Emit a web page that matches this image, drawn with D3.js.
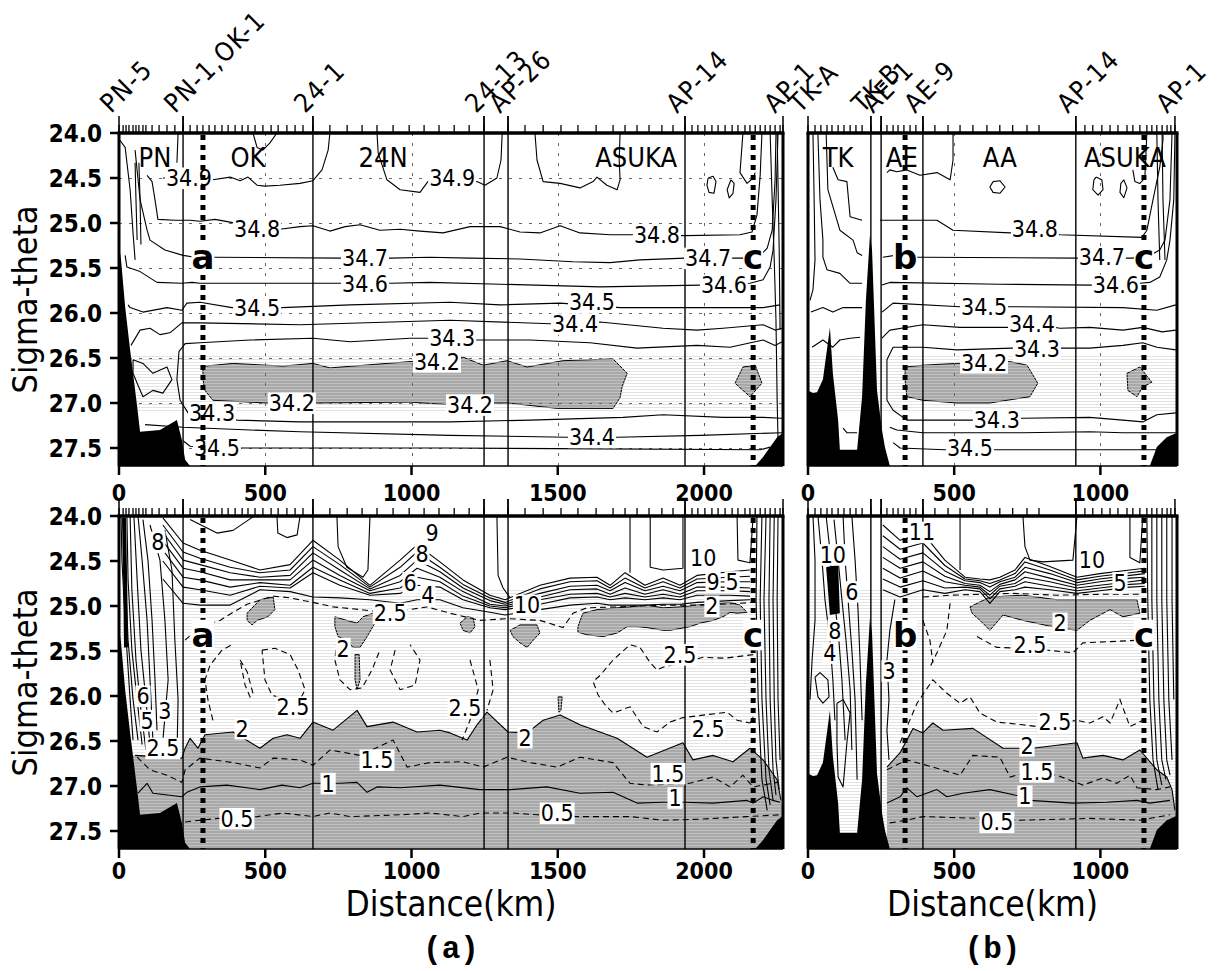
<!DOCTYPE html>
<html>
<head>
<meta charset="utf-8">
<title>Sigma-theta sections</title>
<script src="https://cdn.jsdelivr.net/npm/d3@7/dist/d3.min.js"></script>
<style>
  html, body { margin: 0; padding: 0; background: #ffffff; }
  svg { display: block; }
</style>
</head>
<body>
<svg id="chart" width="1222" height="971" xmlns="http://www.w3.org/2000/svg"></svg>
<script>
// ------------------------------------------------------------------
// Axis values
// ------------------------------------------------------------------
const SIGMA_DOMAIN = [24.0, 27.7];
const sigmaTicks = [24.0, 24.5, 25.0, 25.5, 26.0, 26.5, 27.0, 27.5];
const distTicksA = [0, 500, 1000, 1500, 2000];
const distTicksB = [0, 500, 1000];
const KM_MAX_A = 2270;
const KM_MAX_B = 1262;

// Station positions (km along each section)
const stationsA = [0,14,24,34,48,58,68,82,92,113,137,164,191,219,243,267,287,308,328,352,373,397,421,441,465,492,520,544,574,602,629,663,721,780,831,882,937,992,1043,1094,1146,1197,1248,1330,1388,1450,1511,1569,1631,1689,1730,1771,1812,1856,1894,1935,1959,1979,2003,2027,2048,2072,2096,2116,2140,2157,2175,2192,2209,2226,2243,2260,2270];
const stationsB = [0,24,44,65,82,103,123,144,164,185,215,250,270,291,308,328,349,369,393,434,479,520,564,612,656,700,749,790,916,947,974,1005,1033,1060,1091,1111,1135,1159,1176,1193,1211,1228,1241,1255];
const namedA = [["PN-5",0],["PN-1,OK-1",219],["24-1",663],["24-13",1248],["AP-26",1330],["AP-14",1935],["AP-1",2270]];
const namedB = [["TK-A",0],["TK-B",215],["AE-1",250],["AE-9",393],["AP-14",916],["AP-1",1255]];
const sectionLinesA = [219,663,1248,1330,1935];
const sectionLinesB = [215,250,393,916];
const marksA = [["a",287],["c",2168]];
const marksB = [["b",332],["c",1149]];
const regionsA = [["PN",123],["OK",441],["24N",903],["ASUKA",1768]];
const regionsB = [["TK",103],["AE",321],["AA",656],["ASUKA",1084]];

// Bottom topography (shared by salinity and temperature sections)
const bathyA_left = [[0,25.24],[7,25.41],[21,25.93],[38,26.41],[48,26.67],[62,27.04],[72,27.32],[140,27.30],[198,27.19],[215,27.41],[226,27.63],[243,27.70],[0,27.70]];
const bathyA_right = [[2175,27.70],[2202,27.60],[2226,27.49],[2250,27.38],[2270,27.33],[2270,27.70]];
const bathyB_left = [[0,26.86],[17,26.89],[31,26.88],[51,26.74],[75,26.16],[85,26.67],[103,27.19],[109,27.52],[168,27.52],[185,26.93],[198,25.86],[212,25.13],[219,25.30],[236,26.86],[253,27.30],[263,27.49],[280,27.70],[0,27.70]];
const bathyB_right = [[1169,27.70],[1193,27.49],[1227,27.38],[1262,27.33],[1262,27.70]];

// ------------------------------------------------------------------
// Salinity, section (a)  [km, sigma-theta]
// ------------------------------------------------------------------
const salA_349a = [[150,24.50],[321,24.52],[380,24.49],[414,24.53],[441,24.49],[472,24.58],[499,24.59],[550,24.58],[619,24.56],[663,24.53],[694,24.41],[715,24.19],[721,24.00]];
const salA_349b = [[882,24.00],[886,24.22],[916,24.52],[961,24.63],[1029,24.66],[1056,24.54],[1139,24.52],[1224,24.54],[1251,24.58],[1292,24.50],[1306,24.30],[1310,24.00]];
const salA_349c = [[1422,24.00],[1429,24.30],[1450,24.54],[1508,24.56],[1576,24.61],[1621,24.54],[1634,24.49],[1668,24.58],[1703,24.63],[1713,24.52],[1710,24.30],[1713,24.00]];
const salA_349d = [[2014,24.50],[2031,24.48],[2041,24.54],[2034,24.67],[2017,24.66],[2010,24.58],[2014,24.50]];
const salA_349e = [[2092,24.52],[2103,24.56],[2099,24.67],[2086,24.72],[2079,24.63],[2092,24.52]];
const salA_349f = [[2133,24.00],[2123,24.44],[2147,24.56],[2168,24.50],[2175,24.44]];
const salA_edge1 = [[2226,24.00],[2233,24.74],[2240,25.41],[2246,26.08],[2250,26.97],[2253,27.41]];
const salA_edge2 = [[2250,24.00],[2257,25.30],[2260,26.19]];
const salA_348 = [[96,24.47],[113,24.54],[123,24.74],[133,24.96],[191,24.97],[243,24.97],[277,24.98],[328,24.96],[380,24.99],[472,25.06],[550,25.07],[619,25.04],[663,25.03],[721,25.09],[773,25.04],[824,25.02],[892,25.08],[961,25.07],[1029,25.09],[1108,25.11],[1200,25.04],[1303,25.04],[1371,25.10],[1439,25.11],[1508,25.03],[1576,25.11],[1679,25.13],[1757,25.13],[1935,25.14],[2123,25.13],[2164,25.10],[2181,24.91],[2192,24.47],[2198,24.00]];
const salA_347 = [[55,24.19],[72,24.74],[96,25.08],[106,25.19],[157,25.30],[219,25.36],[260,25.38],[328,25.38],[756,25.39],[927,25.39],[1063,25.38],[1200,25.39],[1371,25.40],[1552,25.43],[1679,25.44],[1781,25.41],[1935,25.39],[2140,25.39],[2198,25.34],[2216,25.28],[2233,25.08],[2243,24.52],[2246,24.00]];
const salA_346 = [[21,25.36],[27,25.49],[72,25.54],[130,25.66],[215,25.67],[250,25.66],[277,25.67],[756,25.67],[927,25.67],[1063,25.66],[1303,25.68],[1645,25.71],[1987,25.69],[2157,25.67],[2202,25.63],[2226,25.49],[2236,25.30],[2246,24.74],[2253,24.00]];
const salA_345 = [[31,25.91],[38,25.94],[82,25.99],[164,25.94],[215,25.97],[232,25.89],[277,25.88],[386,25.94],[557,25.94],[790,25.91],[1132,25.88],[1303,25.91],[1508,25.89],[1713,25.94],[1987,25.94],[2202,25.94],[2260,25.91]];
const salA_344 = [[41,26.36],[72,26.19],[106,26.17],[140,26.24],[174,26.22],[215,26.11],[277,26.11],[619,26.13],[1132,26.08],[1474,26.12],[1645,26.10],[1860,26.17],[1976,26.19],[2065,26.17],[2202,26.13],[2243,26.19],[2267,26.17]];
const salA_343 = [[2267,26.32],[2243,26.36],[2202,26.30],[2089,26.38],[1976,26.36],[1771,26.39],[1610,26.33],[1405,26.30],[1224,26.30],[1139,26.28],[995,26.28],[790,26.32],[663,26.28],[448,26.30],[277,26.33],[226,26.34],[205,26.43],[198,26.74],[209,26.97],[236,27.11],[318,27.12],[403,27.19],[619,27.21],[1132,27.21],[1405,27.19],[1723,27.16],[1860,27.13],[2065,27.16],[2202,27.16],[2267,27.17]];
const salA_344b = [[89,27.24],[219,27.27],[448,27.30],[619,27.32],[1132,27.36],[1532,27.38],[1703,27.38],[1987,27.36],[2267,27.33]];
const salA_345b = [[219,27.42],[243,27.48],[335,27.50],[424,27.50],[1132,27.50],[1645,27.51],[2192,27.52],[2226,27.49]];
const salA_342 = [[287,26.63],[294,26.59],[390,26.56],[561,26.59],[663,26.56],[721,26.61],[995,26.54],[1097,26.52],[1176,26.49],[1245,26.58],[1327,26.53],[1395,26.60],[1518,26.53],[1689,26.51],[1737,26.67],[1720,26.82],[1713,26.94],[1689,27.06],[1498,27.06],[1327,27.00],[1268,27.00],[1132,27.02],[995,26.99],[663,27.00],[506,27.00],[321,26.97],[294,26.86],[287,26.74]];
const salA_342b = [[2133,26.60],[2175,26.58],[2198,26.78],[2157,26.93],[2106,26.78]];
const salA_pnLoop = [[48,26.52],[82,26.56],[116,26.67],[164,26.60],[181,26.74],[150,26.89],[116,26.86],[82,26.93],[62,26.78],[48,26.67],[48,26.52]];
const salA_pn1 = [[3,24.08],[21,24.16],[38,24.63],[48,25.11],[55,25.41]];
const salA_pn2 = [[55,24.33],[58,24.74],[62,25.19]];
const salA_pn3 = [[68,24.33],[72,24.74],[75,25.24]];
const salA_top1 = [[202,24.00],[198,24.33]];
const salA_top2 = [[458,24.00],[472,24.16],[492,24.19],[516,24.11],[540,24.00]];
const salA_labels = [["34.9",239,24.50],["34.9",1139,24.50],["34.8",472,25.06],["34.8",1839,25.13],["34.7",841,25.39],["34.7",2014,25.39],["34.6",841,25.67],["34.6",2068,25.69],["34.5",472,25.94],["34.5",1617,25.87],["34.4",1559,26.12],["34.3",1139,26.28],["34.2",1087,26.54],["34.3",318,27.11],["34.2",591,27.00],["34.2",1200,27.02],["34.4",1617,27.38],["34.5",335,27.50]];

// ------------------------------------------------------------------
// Salinity, section (b)
// ------------------------------------------------------------------
const salB_349a = [[270,24.44],[280,24.41],[304,24.43],[338,24.41],[383,24.47],[441,24.44],[486,24.52],[496,24.30],[496,24.00]];
const salB_349b = [[633,24.54],[656,24.53],[674,24.60],[656,24.67],[633,24.66],[622,24.60],[633,24.54]];
const salB_349c = [[985,24.49],[1005,24.52],[1009,24.63],[992,24.69],[974,24.63],[978,24.52],[985,24.49]];
const salB_349d = [[1080,24.52],[1091,24.61],[1080,24.72],[1067,24.66],[1070,24.56],[1080,24.52]];
const salB_349e = [[1111,24.41],[1118,24.54],[1135,24.56],[1152,24.50],[1159,24.00]];
const salB_edge1 = [[1193,24.00],[1197,24.74],[1203,25.41]];
const salB_edge2 = [[1211,24.00],[1214,24.74],[1221,25.41]];
const salB_tk1 = [[17,24.00],[21,24.74],[24,25.41],[17,25.74],[7,25.86]];
const salB_tk2 = [[34,24.02],[41,24.74],[51,25.19],[51,25.38],[65,25.52],[109,25.56],[144,25.67],[185,25.67]];
const salB_tk3 = [[85,24.38],[103,24.52],[133,24.54],[144,24.93],[185,24.97]];
const salB_tk4 = [[10,25.99],[51,25.94],[85,25.99],[120,25.94],[185,25.94]];
const salB_tk5 = [[14,26.38],[51,26.30],[85,26.38],[109,26.30],[144,26.28],[178,26.27]];
const salB_tk6 = [[120,27.28],[133,27.33],[168,27.33]];
const salB_tk7 = [[62,24.00],[68,24.63],[109,25.08],[154,25.19],[168,25.33],[185,25.36]];
const salB_348 = [[246,24.97],[441,24.97],[496,25.08],[691,25.11],[776,25.06],[862,25.13],[1142,25.16],[1159,25.08],[1180,24.74],[1203,24.38],[1214,24.08],[1214,24.00]];
const salB_347 = [[256,25.38],[297,25.36],[366,25.38],[393,25.38],[920,25.39],[1005,25.38],[1091,25.39],[1111,25.39],[1169,25.36],[1203,25.30],[1221,25.19],[1238,24.74],[1245,24.00]];
const salB_346 = [[253,25.69],[280,25.66],[656,25.68],[971,25.69],[1053,25.69],[1135,25.67],[1169,25.66],[1203,25.60],[1227,25.41],[1238,25.19],[1251,24.74],[1255,24.00]];
const salB_345 = [[253,25.99],[291,25.89],[520,25.93],[602,25.93],[684,25.93],[1077,25.94],[1193,25.97],[1258,25.91]];
const salB_344 = [[253,26.28],[280,26.19],[393,26.13],[520,26.16],[684,26.16],[766,26.12],[862,26.17],[964,26.16],[1077,26.19],[1145,26.16],[1211,26.21],[1258,26.19]];
const salB_343 = [[1258,26.41],[1193,26.38],[1145,26.33],[1077,26.36],[964,26.39],[868,26.39],[783,26.40],[697,26.39],[509,26.41],[393,26.38],[291,26.38],[270,26.52],[270,26.71],[270,26.97],[291,27.08],[338,27.19],[561,27.19],[646,27.19],[732,27.17],[964,27.16],[1077,27.19],[1145,27.21],[1193,27.13],[1258,27.11]];
const salB_344b = [[280,27.27],[304,27.30],[393,27.33],[735,27.33],[964,27.32],[1077,27.33],[1258,27.33]];
const salB_345b = [[291,27.44],[315,27.50],[468,27.52],[554,27.52],[646,27.52],[1193,27.52],[1221,27.49]];
const salB_342 = [[332,26.60],[393,26.58],[509,26.56],[691,26.54],[749,26.58],[786,26.78],[759,26.93],[622,27.00],[509,27.00],[393,26.97],[338,26.93],[332,26.74]];
const salB_342b = [[1091,26.67],[1135,26.60],[1176,26.77],[1145,26.82],[1125,26.93],[1094,26.86]];
const salB_labels = [["34.8",776,25.06],["34.7",1005,25.38],["34.6",1053,25.69],["34.5",602,25.93],["34.4",766,26.12],["34.3",783,26.40],["34.2",602,26.55],["34.3",646,27.19],["34.5",554,27.50]];

// ------------------------------------------------------------------
// Potential temperature, section (a)
// ------------------------------------------------------------------
const tA_bandKm = [150,219,277,380,482,585,663,755,858,961,1019,1097,1176,1268,1320,1439,1542,1634,1679,1730,1798,1860,1918,1976,2089,2157];
const tA_band = [
  [24.02,24.30,24.38,24.49,24.60,24.54,24.27,24.49,24.77,24.49,24.32,24.51,24.71,24.88,24.93,24.77,24.69,24.68,24.77,24.63,24.77,24.69,24.77,24.66,24.62,24.60],
  [24.10,24.40,24.47,24.57,24.63,24.60,24.34,24.54,24.79,24.57,24.40,24.57,24.76,24.91,24.96,24.81,24.73,24.72,24.80,24.69,24.80,24.73,24.80,24.70,24.68,24.67],
  [24.18,24.49,24.54,24.63,24.68,24.66,24.41,24.60,24.81,24.66,24.49,24.62,24.80,24.94,24.98,24.86,24.78,24.77,24.83,24.74,24.83,24.78,24.83,24.74,24.73,24.73],
  [24.28,24.58,24.62,24.71,24.71,24.71,24.49,24.66,24.83,24.73,24.58,24.68,24.84,24.98,25.00,24.90,24.82,24.81,24.87,24.80,24.87,24.82,24.87,24.79,24.79,24.80],
  [24.38,24.68,24.71,24.79,24.74,24.77,24.57,24.71,24.86,24.80,24.68,24.73,24.89,25.00,25.02,24.93,24.87,24.86,24.90,24.86,24.90,24.87,24.90,24.83,24.83,24.84],
  [24.50,24.79,24.82,24.88,24.78,24.80,24.63,24.77,24.88,24.86,24.77,24.79,24.93,25.02,25.04,24.98,24.91,24.90,24.93,24.91,24.93,24.91,24.93,24.88,24.88,24.89],
  [24.70,24.97,24.99,24.99,24.82,24.84,24.90,24.91,24.93,24.97,24.93,24.93,25.02,25.07,25.10,25.04,24.99,24.97,24.99,24.99,24.99,24.98,24.98,24.96,24.94,24.93]
];
const tA_2 = [[55,26.66],[215,26.69],[226,26.58],[243,26.47],[270,26.58],[294,26.43],[390,26.40],[482,26.58],[527,26.47],[574,26.43],[619,26.47],[663,26.29],[732,26.38],[814,26.16],[848,26.34],[937,26.29],[1019,26.40],[1097,26.38],[1132,26.41],[1190,26.49],[1224,26.32],[1258,26.18],[1330,26.40],[1395,26.41],[1450,26.27],[1508,26.21],[1576,26.32],[1703,26.47],[1805,26.68],[1928,26.52],[1962,26.71],[2031,26.66],[2099,26.73],[2157,26.58],[2202,26.71],[2250,26.93],[2263,27.16]];
const tA_15 = [[62,26.68],[106,26.82],[164,26.88],[215,26.96],[226,26.82],[277,26.69],[390,26.74],[482,26.80],[527,26.69],[619,26.71],[663,26.77],[721,26.60],[824,26.66],[937,26.49],[985,26.79],[1063,26.74],[1176,26.73],[1245,26.79],[1327,26.68],[1405,26.74],[1498,26.79],[1576,26.68],[1689,26.74],[1747,26.97],[1805,26.99],[1952,26.97],[2031,26.90],[2089,27.01],[2133,26.88],[2168,27.01],[2250,26.96]];
const tA_1 = [[65,27.08],[96,26.97],[116,27.08],[215,27.12],[232,27.07],[277,27.01],[369,26.99],[482,27.04],[557,26.99],[619,27.02],[663,26.97],[755,26.97],[814,26.96],[848,27.07],[882,27.01],[961,27.02],[1097,26.99],[1234,27.04],[1337,27.04],[1463,27.01],[1576,27.08],[1689,27.07],[1771,27.19],[1860,27.18],[1928,27.18],[2031,27.19],[2147,27.16],[2168,27.19],[2202,27.12],[2236,27.16],[2260,27.18]];
const tA_05 = [[226,27.40],[277,27.38],[338,27.36],[472,27.34],[561,27.30],[663,27.34],[721,27.30],[790,27.34],[961,27.32],[1063,27.30],[1176,27.34],[1234,27.30],[1347,27.30],[1429,27.32],[1566,27.34],[1747,27.34],[1860,27.38],[1976,27.37],[2147,27.34],[2260,27.32]];
const tA_25a = [[226,25.38],[277,25.23],[345,25.16],[390,25.07],[438,24.98],[527,24.89],[585,24.91],[663,24.96],[732,25.01],[824,25.04],[909,25.07],[995,25.04],[1053,25.01],[1132,25.08],[1234,25.16],[1327,25.14],[1439,25.16],[1518,25.24],[1552,25.08],[1600,25.02],[1703,25.01],[1860,24.99],[1997,24.99],[2123,24.97],[2164,24.96]];
const tA_25b = [[2168,25.54],[2072,25.58],[1997,25.57],[1860,25.68],[1839,25.71],[1816,25.63],[1781,25.46],[1747,25.43],[1689,25.60],[1645,25.77],[1621,25.84],[1638,25.99],[1662,26.10],[1689,26.19],[1747,26.12],[1792,26.34],[1839,26.40],[1884,26.29],[1928,26.24],[2079,26.18],[2113,26.27],[2157,26.30],[2168,26.23]];
const tA_25c = [[321,26.27],[304,26.04],[294,25.82],[311,25.66],[352,25.49],[386,25.43]];
const tA_25d = [[414,25.60],[438,25.73],[458,25.97],[448,26.01],[431,25.88],[414,25.60]];
const tA_25e = [[489,25.49],[533,25.47],[585,25.54],[612,25.71],[636,25.93],[619,26.04],[568,26.04],[523,25.99],[499,25.82],[489,25.49]];
const tA_25f = [[745,25.38],[738,25.60],[755,25.82],[790,25.93],[831,25.91],[865,25.71],[892,25.49]];
const tA_25g = [[944,25.49],[927,25.71],[961,25.93],[1012,25.88],[1029,25.60],[995,25.43]];
const tA_25h = [[1200,25.60],[1228,25.93],[1200,26.27],[1173,26.49]];
const tA_25i = [[1268,25.60],[1279,25.93],[1258,26.16]];
const tA_b1 = [[438,25.08],[482,24.93],[527,24.90],[533,25.04],[509,25.12],[472,25.16],[455,25.21],[438,25.16]];
const tA_b2 = [[738,25.12],[779,25.16],[814,25.19],[834,25.12],[868,25.08],[875,25.19],[848,25.34],[824,25.46],[800,25.46],[779,25.38],[749,25.34],[738,25.23]];
const tA_b3 = [[1166,25.19],[1190,25.12],[1210,25.13],[1217,25.23],[1200,25.30],[1176,25.27]];
const tA_b4 = [[1337,25.27],[1371,25.21],[1429,25.21],[1439,25.30],[1416,25.38],[1395,25.46],[1371,25.41],[1347,25.34]];
const tA_b5 = [[1569,25.23],[1586,25.08],[1634,25.04],[1703,25.02],[1747,25.01],[1805,24.99],[1860,25.02],[1918,25.01],[1976,24.99],[2045,24.97],[2089,24.96],[2123,24.99],[2147,25.07],[2113,25.08],[2089,25.07],[2065,25.12],[2031,25.16],[1987,25.19],[1952,25.23],[1884,25.27],[1860,25.27],[1805,25.24],[1771,25.23],[1737,25.23],[1703,25.30],[1655,25.34],[1600,25.32],[1569,25.29]];
const tA_drip1 = [[807,25.54],[821,25.54],[824,25.82],[814,25.93],[807,25.82]];
const tA_drip2 = [[1501,26.01],[1515,26.01],[1511,26.16],[1504,26.18]];
const tA_pnCore = [[17,24.02],[21,24.71],[24,25.46]];
const tA_pn = [
  [[7,24.00],[10,24.49],[17,24.93],[27,25.49],[38,26.04],[48,26.49]],
  [[17,24.00],[21,24.60],[31,25.38],[48,26.04],[65,26.49]],
  [[27,24.00],[31,24.71],[44,25.49],[62,26.04],[79,26.54]],
  [[38,24.00],[44,24.82],[58,25.60],[75,26.16],[92,26.60]],
  [[51,24.00],[62,24.71],[75,25.49],[92,26.04],[106,26.54]],
  [[65,24.00],[79,24.49],[96,25.16],[106,25.82],[116,26.49]],
  [[82,24.04],[99,24.49],[113,25.16],[123,25.82],[130,26.38]],
  [[106,24.10],[140,24.49],[157,25.16],[168,25.82],[150,26.49]],
  [[157,24.16],[181,24.60],[191,25.38],[202,26.04],[198,26.68]]
];
const tA_edge = [
  [[2181,24.00],[2178,24.93],[2185,26.04],[2198,26.93],[2216,27.27]],
  [[2198,24.00],[2192,24.93],[2198,26.04],[2212,26.93],[2226,27.21]],
  [[2212,24.00],[2205,24.93],[2212,26.04],[2222,26.82],[2236,27.16]],
  [[2226,24.00],[2222,24.93],[2226,26.04],[2236,26.82],[2246,27.10]],
  [[2240,24.00],[2236,24.93],[2240,26.04],[2246,26.71],[2257,27.04]],
  [[2253,24.00],[2250,24.93],[2253,26.04],[2260,26.71]]
];
const tA_top = [
  [[540,24.00],[543,24.19],[574,24.24],[609,24.21],[619,24.00]],
  [[745,24.00],[749,24.34],[779,24.57],[834,24.68],[851,24.60],[858,24.00]],
  [[1292,24.00],[1296,24.66],[1313,24.80],[1337,24.91]],
  [[1747,24.00],[1747,24.63]],
  [[1816,24.00],[1816,24.57],[1860,24.60],[1928,24.58],[1928,24.00]],
  [[2113,24.00],[2116,24.49],[2157,24.52],[2168,24.00]],
  [[243,24.04],[335,24.19],[390,24.16],[458,24.01]]
];
const tA_labels = [["8",133,24.29],["9",1070,24.19],["8",1036,24.42],["6",995,24.74],["4",1056,24.88],["2.5",927,25.08],["2",766,25.47],["10",1395,24.99],["10",1997,24.46],["9",2031,24.73],["5",2096,24.73],["2",2027,25.00],["2.5",1918,25.54],["6",82,26.00],["5",96,26.27],["3",157,26.16],["2.5",150,26.58],["2",421,26.36],["2.5",595,26.12],["1.5",882,26.71],["1",715,26.97],["0.5",403,27.36],["2.5",1183,26.13],["2",1388,26.46],["1.5",1877,26.86],["1",1901,27.13],["0.5",1498,27.30],["2.5",2014,26.36]];

// ------------------------------------------------------------------
// Potential temperature, section (b)
// ------------------------------------------------------------------
const tB_bandKm = [256,315,393,468,537,588,622,656,708,742,827,920,998,1101,1152];
const tB_band = [
  [24.10,24.27,24.19,24.49,24.68,24.70,24.71,24.68,24.60,24.46,24.56,24.68,24.64,24.60,24.58],
  [24.22,24.37,24.30,24.55,24.70,24.72,24.75,24.71,24.64,24.51,24.60,24.71,24.67,24.63,24.61],
  [24.34,24.48,24.41,24.61,24.72,24.74,24.79,24.73,24.68,24.57,24.64,24.74,24.70,24.66,24.64],
  [24.46,24.58,24.51,24.67,24.75,24.77,24.84,24.76,24.71,24.62,24.69,24.77,24.73,24.69,24.68],
  [24.58,24.69,24.61,24.73,24.77,24.79,24.88,24.78,24.75,24.68,24.73,24.80,24.77,24.73,24.71],
  [24.70,24.79,24.72,24.80,24.79,24.81,24.92,24.81,24.78,24.73,24.78,24.83,24.80,24.76,24.75],
  [24.82,24.90,24.82,24.86,24.82,24.84,24.97,24.84,24.82,24.79,24.82,24.86,24.83,24.79,24.78]
];
const tB_2 = [[270,26.79],[315,26.63],[359,26.36],[393,26.41],[427,26.30],[462,26.38],[564,26.36],[667,26.58],[769,26.58],[920,26.52],[940,26.69],[1009,26.66],[1077,26.71],[1135,26.60],[1193,26.82],[1227,26.90],[1245,27.04],[1255,27.27]];
const tB_15 = [[270,26.82],[338,26.71],[427,26.79],[520,26.88],[564,26.66],[656,26.68],[691,26.90],[735,26.86],[851,26.88],[940,26.99],[1009,26.91],[1056,26.97],[1101,26.88],[1125,27.02],[1193,27.04],[1238,27.01]];
const tB_1 = [[270,27.19],[315,27.12],[338,27.02],[373,27.12],[441,27.04],[475,27.12],[530,27.08],[622,27.04],[735,27.12],[759,27.16],[906,27.19],[1022,27.18],[1125,27.16],[1169,27.19],[1238,27.16]];
const tB_05 = [[280,27.41],[338,27.38],[393,27.34],[588,27.36],[725,27.38],[964,27.36],[1135,27.38],[1238,27.32]];
const tB_25a = [[486,24.97],[475,25.27],[441,25.52],[417,25.68]];
const tB_25b = [[578,25.34],[646,25.46],[735,25.47],[817,25.49],[906,25.52],[940,25.41],[1135,25.38]];
const tB_25c = [[315,26.52],[373,26.08],[427,25.82],[475,25.97],[520,26.08],[554,26.01],[588,26.19],[646,26.29],[735,26.32],[783,26.34],[920,26.27],[964,26.30],[1009,26.23],[1033,26.30],[1067,26.04],[1101,26.34],[1145,26.27]];
const tB_25d = [[393,24.90],[486,24.88],[588,24.87],[700,24.86],[850,24.88],[1000,24.87],[1142,24.87]];
const tB_25e = [[393,25.16],[417,25.38],[427,25.63]];
const tB_blob = [[554,25.01],[622,24.90],[735,24.88],[851,24.93],[1125,24.93],[1135,25.08],[1077,25.12],[1033,25.04],[964,25.16],[920,25.27],[851,25.24],[735,25.16],[667,25.10],[622,25.27],[598,25.19],[561,25.08]];
const tB_tkCore = [[62,24.57],[103,24.54],[109,25.08],[75,25.10]];
const tB_tk = [
  [[17,24.00],[24,24.49],[24,25.16],[14,25.60],[7,26.04]],
  [[34,24.00],[48,24.49],[58,24.93],[75,25.38],[85,25.82],[92,26.27]],
  [[62,24.00],[75,24.38],[85,24.82],[103,25.27],[116,25.82],[127,26.49]],
  [[89,24.04],[103,24.49],[116,24.93],[130,25.38],[144,25.93],[150,26.60]],
  [[120,24.00],[127,24.49],[137,24.93],[150,25.49],[161,26.04],[168,26.93]],
  [[150,24.00],[161,24.49],[171,25.04],[178,25.60],[185,26.27]],
  [[24,25.79],[41,25.74],[68,25.82],[72,26.01],[51,26.08],[34,26.01],[24,25.79]],
  [[99,26.08],[120,26.04],[144,26.19],[133,26.52],[120,27.01],[103,26.90],[99,26.52],[99,26.08]],
  [[297,24.93],[280,25.27],[270,25.60],[277,26.04],[270,26.38],[277,26.71]]
];
const tB_edge = [
  [[1159,24.00],[1162,24.93],[1169,26.04],[1180,26.71],[1197,27.04]],
  [[1176,24.00],[1176,24.93],[1183,26.04],[1193,26.71],[1210,26.99]],
  [[1193,24.00],[1193,24.93],[1200,26.04],[1210,26.71],[1224,26.93]],
  [[1210,24.00],[1210,24.93],[1217,26.04],[1227,26.71],[1238,26.88]],
  [[1227,24.00],[1227,24.93],[1234,26.04],[1245,26.71]],
  [[1245,24.00],[1245,24.93],[1251,26.04]]
];
const tB_top = [
  [[520,24.00],[520,24.60]],
  [[735,24.00],[742,24.34],[759,24.49],[803,24.51],[906,24.49],[920,24.00]],
  [[1101,24.00],[1101,24.46],[1135,24.52],[1145,24.00]]
];
const tB_labels = [["11",390,24.18],["10",85,24.43],["6",150,24.84],["8",92,25.27],["4",75,25.52],["3",277,25.72],["10",971,24.49],["5",1067,24.74],["2",862,25.19],["2.5",759,25.43],["2.5",845,26.29],["2",749,26.55],["1.5",783,26.84],["1",742,27.11],["0.5",646,27.40]];

// ------------------------------------------------------------------
// Layout and styling
// ------------------------------------------------------------------
const layout = {
  salA:  { x0: 119, x1: 783,  y0: 133, y1: 466, xLabelY: 501, markSigma: 25.38 },
  tempA: { x0: 119, x1: 783,  y0: 516, y1: 849, xLabelY: 879, markSigma: 25.32 },
  salB:  { x0: 808, x1: 1177, y0: 133, y1: 466, xLabelY: 501, markSigma: 25.38 },
  tempB: { x0: 808, x1: 1177, y0: 516, y1: 849, xLabelY: 879, markSigma: 25.32 }
};
const GRAY = "#a9a9a9";
const FONT_C = '"DejaVu Sans Condensed", "DejaVu Sans", sans-serif';
const FONT_MONO = '"Liberation Mono", "DejaVu Sans Mono", monospace';
const LABEL_SIZE = 23;

const closeArea = (edge, kmMax, leftKm) =>
  edge.concat([[kmMax, edge[edge.length - 1][1] + 0.1], [kmMax, SIGMA_DOMAIN[1]], [leftKm, SIGMA_DOMAIN[1]], [leftKm, edge[0][1]]]);
const bandLines = (kms, rows) => rows.map(r => r.map((s, i) => [kms[i], s]));

const panels = [
  {
    id: "salA", box: layout.salA, kmMax: KM_MAX_A, top: true, yAxis: true,
    stations: stationsA, named: namedA, sections: sectionLinesA, marks: marksA, regions: regionsA,
    xTicks: distTicksA, gridX: distTicksA.slice(1), gridY: sigmaTicks.slice(1), hatch: [26.48, 27.08],
    areas: [], blobs: [salA_342, salA_342b], darks: [],
    solid: [salA_349a, salA_349b, salA_349c, salA_349d, salA_349e, salA_349f, salA_edge1, salA_edge2,
            salA_348, salA_347, salA_346, salA_345, salA_344, salA_343, salA_344b, salA_345b,
            salA_pnLoop, salA_pn1, salA_pn2, salA_pn3, salA_top1, salA_top2],
    dashed: [], thick: [], bathy: [bathyA_left, bathyA_right], labels: salA_labels
  },
  {
    id: "tempA", box: layout.tempA, kmMax: KM_MAX_A, top: false, yAxis: true,
    stations: stationsA, named: namedA, sections: sectionLinesA, marks: marksA, regions: [],
    xTicks: distTicksA, gridX: [], gridY: [], hatch: [24.82, 27.70],
    areas: [closeArea(tA_2, KM_MAX_A, 0)],
    blobs: [tA_b1, tA_b2, tA_b3, tA_b4, tA_b5, tA_drip1, tA_drip2], darks: [],
    solid: bandLines(tA_bandKm, tA_band).concat([tA_2, tA_1], tA_pn, tA_edge, tA_top),
    dashed: [tA_15, tA_05, tA_25a, tA_25b, tA_25c, tA_25d, tA_25e, tA_25f, tA_25g, tA_25h, tA_25i],
    thick: [tA_pnCore], bathy: [bathyA_left, bathyA_right], labels: tA_labels
  },
  {
    id: "salB", box: layout.salB, kmMax: KM_MAX_B, top: true, yAxis: false,
    stations: stationsB, named: namedB, sections: sectionLinesB, marks: marksB, regions: regionsB,
    xTicks: distTicksB, gridX: distTicksB.slice(1), gridY: [], hatch: [26.48, 27.08],
    areas: [], blobs: [salB_342, salB_342b], darks: [],
    solid: [salB_349a, salB_349b, salB_349c, salB_349d, salB_349e, salB_edge1, salB_edge2,
            salB_tk1, salB_tk2, salB_tk3, salB_tk4, salB_tk5, salB_tk6, salB_tk7,
            salB_348, salB_347, salB_346, salB_345, salB_344, salB_343, salB_344b, salB_345b],
    dashed: [], thick: [], bathy: [bathyB_left, bathyB_right], labels: salB_labels
  },
  {
    id: "tempB", box: layout.tempB, kmMax: KM_MAX_B, top: false, yAxis: false,
    stations: stationsB, named: namedB, sections: sectionLinesB, marks: marksB, regions: [],
    xTicks: distTicksB, gridX: [], gridY: [], hatch: [24.82, 27.70],
    areas: [closeArea(tB_2, KM_MAX_B, 270)],
    blobs: [tB_blob], darks: [tB_tkCore],
    solid: bandLines(tB_bandKm, tB_band).concat([tB_2, tB_1], tB_tk, tB_edge, tB_top),
    dashed: [tB_15, tB_05, tB_25a, tB_25b, tB_25c, tB_25d, tB_25e],
    thick: [], bathy: [bathyB_left, bathyB_right], labels: tB_labels
  }
];

// ------------------------------------------------------------------
// Drawing
// ------------------------------------------------------------------
const svg = d3.select("#chart");
const defs = svg.append("defs");

function boxedText(g, txt, cx, cy, font, size, weight, pad) {
  const t = g.append("text")
    .attr("x", cx).attr("y", cy).attr("dy", "0.36em")
    .attr("text-anchor", "middle")
    .attr("font-family", font).attr("font-size", size).attr("font-weight", weight || "normal")
    .attr("fill", "#000").text(txt);
  const bb = t.node().getBBox();
  const trim = size * 0.14;
  g.insert("rect", () => t.node())
    .attr("x", bb.x - pad).attr("y", bb.y + trim - pad)
    .attr("width", bb.width + 2 * pad).attr("height", bb.height - 2 * trim + 2 * pad)
    .attr("fill", "#fff");
  return t;
}

function drawPanel(p) {
  const { x0, x1, y0, y1 } = p.box;
  const x = d3.scaleLinear().domain([0, p.kmMax]).range([x0, x1]);
  const y = d3.scaleLinear().domain(SIGMA_DOMAIN).range([y0, y1]);
  const line = d3.line().x(d => x(d[0])).y(d => y(d[1]));
  const clipId = "clip-" + p.id;
  defs.append("clipPath").attr("id", clipId).append("rect")
    .attr("x", x0).attr("y", y0).attr("width", x1 - x0).attr("height", y1 - y0);

  const root = svg.append("g").attr("class", "panel " + p.id);
  const plot = root.append("g").attr("clip-path", `url(#${clipId})`);

  // shaded water masses
  plot.append("g").selectAll("path").data(p.areas).join("path")
    .attr("d", d => line(d) + "Z").attr("fill", GRAY).attr("stroke", "none");
  plot.append("g").selectAll("path").data(p.blobs).join("path")
    .attr("d", d => line(d) + "Z").attr("fill", GRAY)
    .attr("stroke", "#000").attr("stroke-width", 1).attr("stroke-linejoin", "round");

  // horizontal sampling hatch
  const hy = d3.range(Math.round(y(p.hatch[0])), y(p.hatch[1]), 3);
  plot.append("g").selectAll("line").data(hy).join("line")
    .attr("x1", x0).attr("x2", x1).attr("y1", d => d + 0.5).attr("y2", d => d + 0.5)
    .attr("stroke", "#d0d0d0").attr("stroke-opacity", 0.6).attr("stroke-width", 1);

  // dotted grid
  const grid = plot.append("g").attr("stroke", "#666").attr("stroke-width", 1).attr("stroke-dasharray", "3,7");
  grid.selectAll("line.gx").data(p.gridX).join("line").attr("class", "gx")
    .attr("x1", d => Math.round(x(d)) + 0.5).attr("x2", d => Math.round(x(d)) + 0.5)
    .attr("y1", y0).attr("y2", y1);
  grid.selectAll("line.gy").data(p.gridY).join("line").attr("class", "gy")
    .attr("x1", x0).attr("x2", x1)
    .attr("y1", d => Math.round(y(d)) + 0.5).attr("y2", d => Math.round(y(d)) + 0.5);

  // isolines
  plot.append("g").selectAll("path").data(p.solid).join("path")
    .attr("d", line).attr("fill", "none").attr("stroke", "#000")
    .attr("stroke-width", 1.1).attr("stroke-linejoin", "round");
  plot.append("g").selectAll("path").data(p.dashed).join("path")
    .attr("d", line).attr("fill", "none").attr("stroke", "#000")
    .attr("stroke-width", 1.1).attr("stroke-dasharray", "6,4");
  plot.append("g").selectAll("path").data(p.thick).join("path")
    .attr("d", line).attr("fill", "none").attr("stroke", "#000").attr("stroke-width", 4);
  // tightly packed isotherms rendered as a solid band
  plot.append("g").selectAll("path").data(p.darks).join("path")
    .attr("d", d => line(d) + "Z").attr("fill", "#000");

  // bottom topography
  plot.append("g").selectAll("path").data(p.bathy).join("path")
    .attr("d", d => line(d) + "Z").attr("fill", "#000");

  // station section lines
  root.append("g").selectAll("line").data(p.sections).join("line")
    .attr("x1", d => x(d)).attr("x2", d => x(d)).attr("y1", y0 - 17).attr("y2", y1)
    .attr("stroke", "#000").attr("stroke-width", 1.4);
  root.append("g").selectAll("line").data(p.stations).join("line")
    .attr("x1", d => x(d)).attr("x2", d => x(d)).attr("y1", y0 - 8).attr("y2", y0)
    .attr("stroke", "#000").attr("stroke-width", 1.3);
  root.append("g").selectAll("line").data(p.named).join("line")
    .attr("x1", d => x(d[1])).attr("x2", d => x(d[1])).attr("y1", y0 - 17).attr("y2", y0)
    .attr("stroke", "#000").attr("stroke-width", 1.5);

  // frame
  const frame = root.append("g").attr("stroke", "#000");
  frame.append("line").attr("x1", x0 - 1.5).attr("x2", x1 + 1.5).attr("y1", y0).attr("y2", y0).attr("stroke-width", 3.5);
  frame.append("line").attr("x1", x0).attr("x2", x0).attr("y1", y0).attr("y2", y1).attr("stroke-width", 3);
  frame.append("line").attr("x1", x1).attr("x2", x1).attr("y1", y0).attr("y2", y1).attr("stroke-width", 3);
  frame.append("line").attr("x1", x0).attr("x2", x1).attr("y1", y1).attr("y2", y1).attr("stroke-width", 1.5);

  // distance axis
  root.append("g").selectAll("line").data(p.xTicks).join("line")
    .attr("x1", d => x(d)).attr("x2", d => x(d)).attr("y1", y1).attr("y2", y1 + 9)
    .attr("stroke", "#000").attr("stroke-width", 2.5);
  root.append("g").selectAll("text").data(p.xTicks).join("text")
    .attr("x", d => x(d)).attr("y", p.box.xLabelY).attr("text-anchor", "middle")
    .attr("font-family", FONT_C).attr("font-size", 23).attr("font-weight", "bold")
    .text(d => d);

  // sigma-theta axis
  if (p.yAxis) {
    root.append("g").selectAll("line").data(sigmaTicks).join("line")
      .attr("x1", x0 - 9).attr("x2", x0).attr("y1", d => y(d)).attr("y2", d => y(d))
      .attr("stroke", "#000").attr("stroke-width", 2.5);
    root.append("g").selectAll("text").data(sigmaTicks).join("text")
      .attr("x", x0 - 17).attr("y", d => y(d)).attr("dy", "0.36em").attr("text-anchor", "end")
      .attr("font-family", FONT_C).attr("font-size", 24).attr("font-weight", "bold")
      .text(d => d3.format(".1f")(d));
  }

  // station names and water-mass regions
  if (p.top) {
    root.append("g").selectAll("text").data(p.named).join("text")
      .attr("transform", d => `translate(${x(d[1]) - 8},${y0 - 19}) rotate(-45)`)
      .attr("font-family", FONT_C).attr("font-size", 26).attr("letter-spacing", 1.5)
      .text(d => d[0]);
    root.append("g").selectAll("text").data(p.regions).join("text")
      .attr("x", d => x(d[1])).attr("y", y(24.27)).attr("dy", "0.36em").attr("text-anchor", "middle")
      .attr("font-family", FONT_C).attr("font-size", 27)
      .text(d => d[0]);
  }

  // contour labels
  const lab = root.append("g");
  p.labels.forEach(([t, km, s]) => boxedText(lab, t, x(km), y(s), FONT_C, LABEL_SIZE, "normal", 1));

  // reference profiles a, b, c
  const mk = root.append("g");
  mk.selectAll("line").data(p.marks).join("line")
    .attr("x1", d => x(d[1])).attr("x2", d => x(d[1])).attr("y1", y0 + 2).attr("y2", y1)
    .attr("stroke", "#000").attr("stroke-width", 5).attr("stroke-dasharray", "5,5");
  p.marks.forEach(([t, km]) => boxedText(mk, t, x(km), y(p.box.markSigma), '"DejaVu Sans", sans-serif', 34, "bold", 0));
}

panels.forEach(drawPanel);

// axis titles
[layout.salA, layout.tempA].forEach(b => {
  svg.append("text")
    .attr("transform", `translate(37,${(b.y0 + b.y1) / 2}) rotate(-90)`)
    .attr("text-anchor", "middle").attr("font-family", FONT_C).attr("font-size", 34)
    .text("Sigma-theta");
});
[layout.tempA, layout.tempB].forEach((b, i) => {
  const cx = (b.x0 + b.x1) / 2;
  svg.append("text").attr("x", cx).attr("y", 916).attr("text-anchor", "middle")
    .attr("font-family", FONT_C).attr("font-size", 35).text("Distance(km)");
  svg.append("text").attr("x", cx).attr("y", 958).attr("text-anchor", "middle")
    .attr("font-family", FONT_MONO).attr("font-size", 31).attr("font-weight", "bold")
    .text(i === 0 ? "(a)" : "(b)");
});
</script>
</body>
</html>
